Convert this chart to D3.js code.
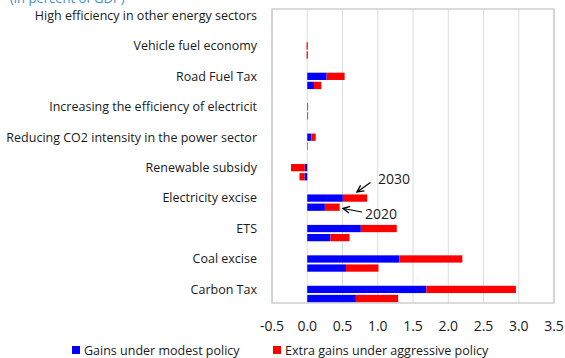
<!DOCTYPE html>
<html>
<head>
<meta charset="utf-8">
<script src="https://cdn.jsdelivr.net/npm/d3@7"></script>
<style>
  html, body { margin: 0; padding: 0; background: #fff; }
  svg { display: block; font-family: "Open Sans", "Noto Sans", sans-serif; }
</style>
</head>
<body>
<svg id="chart" width="565" height="358"></svg>
<script>
// Fiscal gains by policy, in percent of GDP
const categories = [
  "High efficiency in other energy sectors",
  "Vehicle fuel economy",
  "Road Fuel Tax",
  "Increasing the efficiency of electricit",
  "Reducing CO2 intensity in the power sector",
  "Renewable subsidy",
  "Electricity excise",
  "ETS",
  "Coal excise",
  "Carbon Tax"
];
const years = ["2030", "2020"];
// Gains under modest policy
const modest2030 = [0, 0.005, 0.275, 0.006, 0.06, -0.035, 0.505, 0.76, 1.305, 1.69];
const modest2020 = [0, 0.005, 0.095, 0.006, 0.004, -0.04, 0.25, 0.33, 0.55, 0.69];
// Extra gains under aggressive policy
const extra2030 = [0, -0.015, 0.255, 0.006, 0.06, -0.195, 0.345, 0.51, 0.895, 1.27];
const extra2020 = [0, -0.015, 0.105, 0.006, 0.004, -0.07, 0.21, 0.27, 0.46, 0.60];
const xTicks = [-0.5, 0, 0.5, 1, 1.5, 2, 2.5, 3, 3.5];
const seriesNames = ["Gains under modest policy", "Extra gains under aggressive policy"];
const seriesColors = ["#0000ff", "#ff0000"];

const svg = d3.select("#chart");
const plot = { left: 272, right: 554, top: 9, bottom: 303 };

const x = d3.scaleLinear().domain([-0.5, 3.5]).range([plot.left, plot.right]);
const y = d3.scaleBand().domain(categories).range([10, 314.4]).paddingInner(0).paddingOuter(0);
const ySub = d3.scaleBand().domain(years).range([0, 20]).padding(0.2);

// gridlines
svg.append("g")
  .selectAll("line")
  .data(xTicks)
  .join("line")
  .attr("x1", d => x(d)).attr("x2", d => x(d))
  .attr("y1", plot.top).attr("y2", plot.bottom)
  .attr("stroke", "#dcdcdc").attr("stroke-width", 1);

// plot frame
svg.append("rect")
  .attr("x", plot.left).attr("y", plot.top)
  .attr("width", plot.right - plot.left).attr("height", plot.bottom - plot.top)
  .attr("fill", "none").attr("stroke", "#c4c4c4").attr("stroke-width", 1.2);

// stacked segments: modest first, then extra continuing from its end
const rows = [];
categories.forEach((c, i) => {
  [["2030", modest2030[i], extra2030[i]], ["2020", modest2020[i], extra2020[i]]].forEach(([yr, m, e]) => {
    rows.push({ cat: c, year: yr, s: 0, x0: 0, x1: m });
    rows.push({ cat: c, year: yr, s: 1, x0: m, x1: m + e });
  });
});

svg.append("g")
  .selectAll("rect")
  .data(rows)
  .join("rect")
  .attr("x", d => x(Math.min(d.x0, d.x1)))
  .attr("width", d => Math.max(Math.abs(x(d.x1) - x(d.x0)), 0))
  .attr("y", d => y(d.cat) + ySub(d.year))
  .attr("height", ySub.bandwidth())
  .attr("fill", d => seriesColors[d.s]);

// category labels
svg.append("g")
  .selectAll("text")
  .data(categories)
  .join("text")
  .attr("x", 257)
  .attr("y", d => y(d) + ySub("2030") + ySub.bandwidth() / 2)
  .attr("dy", "0.35em")
  .attr("text-anchor", "end")
  .attr("font-size", 12.5)
  .attr("fill", "#1a1a1a")
  .text(d => d);

// x axis tick labels
svg.append("g")
  .selectAll("text")
  .data(xTicks)
  .join("text")
  .attr("x", d => x(d))
  .attr("y", 326)
  .attr("dy", "0.35em")
  .attr("text-anchor", "middle")
  .attr("font-size", 14)
  .attr("fill", "#1a1a1a")
  .text(d => d.toFixed(1));

// title (partly above the top edge)
svg.append("text")
  .attr("x", 10).attr("y", 3)
  .attr("font-size", 13)
  .attr("fill", "#3d8ccc")
  .text("(in percent of GDP)");

// year annotations with arrows
const defs = svg.append("defs");
defs.append("marker")
  .attr("id", "arrow")
  .attr("viewBox", "0 0 10 10")
  .attr("refX", 9).attr("refY", 5)
  .attr("markerWidth", 7).attr("markerHeight", 7)
  .attr("orient", "auto-start-reverse")
  .append("path")
  .attr("d", "M1,1 L9,5 L1,9")
  .attr("fill", "none").attr("stroke", "#000").attr("stroke-width", 1.6);

const annotations = [
  { label: "2030", tx: 378, ty: 179, from: [370.5, 182.5], to: [357, 192] },
  { label: "2020", tx: 365, ty: 214, from: [362, 212], to: [343, 208.5] }
];
annotations.forEach(a => {
  svg.append("line")
    .attr("x1", a.from[0]).attr("y1", a.from[1])
    .attr("x2", a.to[0]).attr("y2", a.to[1])
    .attr("stroke", "#000").attr("stroke-width", 1.2)
    .attr("marker-end", "url(#arrow)");
  svg.append("text")
    .attr("x", a.tx).attr("y", a.ty)
    .attr("dy", "0.35em")
    .attr("font-size", 14)
    .attr("fill", "#1a1a1a")
    .text(a.label);
});

// legend
const legend = svg.append("g");
const legendItems = [
  { name: seriesNames[0], color: seriesColors[0], x: 72 },
  { name: seriesNames[1], color: seriesColors[1], x: 273 }
];
legendItems.forEach(l => {
  legend.append("rect")
    .attr("x", l.x).attr("y", 346)
    .attr("width", 8).attr("height", 8)
    .attr("fill", l.color);
  legend.append("text")
    .attr("x", l.x + 12).attr("y", 351)
    .attr("dy", "0.35em")
    .attr("font-size", 12.5)
    .attr("fill", "#1a1a1a")
    .text(l.name);
});
</script>
</body>
</html>
